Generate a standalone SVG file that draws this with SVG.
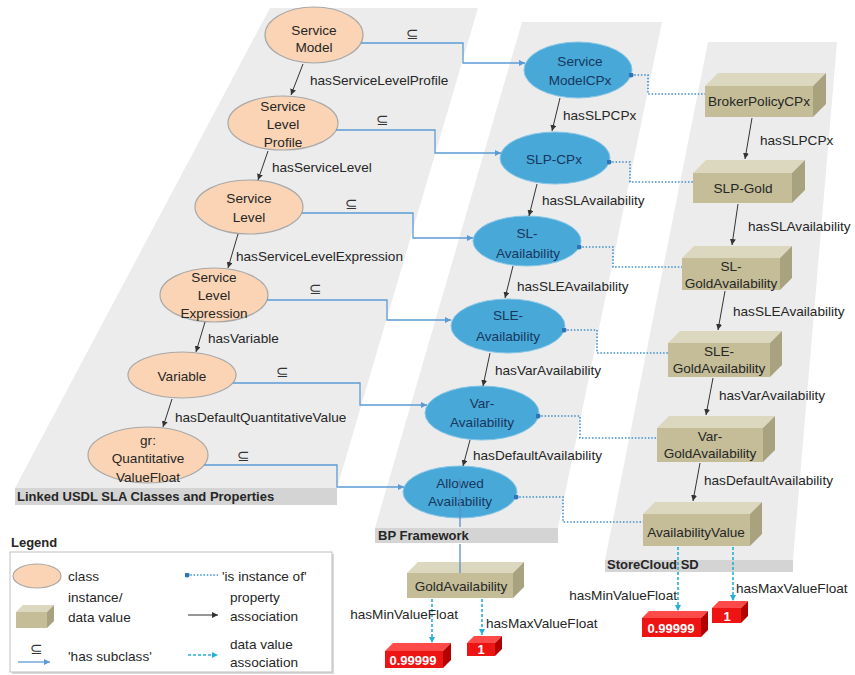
<svg xmlns="http://www.w3.org/2000/svg" width="855" height="675" viewBox="0 0 855 675">
<defs>
<style>
text{font-family:"Liberation Sans",Arial,sans-serif;font-size:13.6px;fill:#262626}
.c{text-anchor:middle}
.b{font-weight:bold;font-size:13px}
.nb{fill:#17375e}
.w{fill:#ffffff;font-weight:bold;font-size:13px}
.panel{fill:#ececec}
.strip{fill:#d4d4d4}
.peach{fill:#fad4b4;stroke:#a8a8a8;stroke-width:1.2}
.blue{fill:#48a8d8;stroke:#86c5e6;stroke-width:1}
.bf{fill:#c4bd97}.btp{fill:#dcd8bf}.bs{fill:#a9a27f}
.rf{fill:#ee1414}.rt{fill:#ff4a4a}.rs{fill:#b30000}
.prop{stroke:#333333;stroke-width:1;fill:none;marker-end:url(#ak)}
.sub{stroke:#5b9bd5;stroke-width:1.3;fill:none;marker-end:url(#abl)}
.inst{stroke:#3d8fd1;stroke-width:1.6;stroke-dasharray:1.5 1.8;fill:none;marker-start:url(#dot)}
.dv{stroke:#27b0d4;stroke-width:1.6;stroke-dasharray:3 2;fill:none;marker-end:url(#acy)}
.sym{font-size:15px;fill:#333333}
</style>
<marker id="ak" viewBox="0 0 6 6" refX="6" refY="3" markerWidth="6" markerHeight="6" markerUnits="userSpaceOnUse" orient="auto"><path d="M0,0 L6,3 L0,6 z" fill="#333333"/></marker>
<marker id="abl" viewBox="0 0 6 6" refX="6" refY="3" markerWidth="6" markerHeight="6" markerUnits="userSpaceOnUse" orient="auto"><path d="M0,0 L6,3 L0,6 z" fill="#5b9bd5"/></marker>
<marker id="acy" viewBox="0 0 6 6" refX="6" refY="3" markerWidth="6" markerHeight="6" markerUnits="userSpaceOnUse" orient="auto"><path d="M0,0 L6,3 L0,6 z" fill="#27b0d4"/></marker>
<marker id="dot" viewBox="0 0 6 6" refX="3" refY="3" markerWidth="5" markerHeight="5" markerUnits="userSpaceOnUse"><circle cx="3" cy="3" r="3" fill="#2e75b6"/></marker>
</defs>
<rect width="855" height="675" fill="#ffffff"/>

<g id="panels">
<polygon class="panel" points="270,8 478,8 337,488 15,488"/>
<polygon class="strip" points="15,488 337,488 337,505 15,505"/>
<text class="b" x="17" y="501">Linked USDL SLA Classes and Properties</text>
<polygon class="panel" points="522,22 662,22 558,528 375,528"/>
<polygon class="strip" points="375,528 558,528 558,543 375,543"/>
<text class="b" x="378" y="540">BP Framework</text>
<polygon class="panel" points="708,42 837,42 793,560 605,560"/>
<polygon class="strip" points="605,560 793,560 793,572 605,572"/>
<text class="b" x="607" y="569">StoreCloud SD</text>
</g>

<g id="n-service-model"><ellipse class="peach" cx="314" cy="35" rx="49" ry="28"/><text class="c" x="314" y="35">Service</text><text class="c" x="314" y="52">Model</text></g>
<g id="n-slp"><ellipse class="peach" cx="283" cy="123" rx="55" ry="27"/><text class="c" x="283" y="111">Service</text><text class="c" x="283" y="129">Level</text><text class="c" x="283" y="147">Profile</text></g>
<g id="n-sl"><ellipse class="peach" cx="249" cy="207" rx="54" ry="27"/><text class="c" x="249" y="203">Service</text><text class="c" x="249" y="222">Level</text></g>
<g id="n-sle"><ellipse class="peach" cx="214" cy="295" rx="54" ry="27"/><text class="c" x="214" y="282">Service</text><text class="c" x="214" y="300">Level</text><text class="c" x="214" y="318">Expression</text></g>
<g id="n-variable"><ellipse class="peach" cx="182" cy="375" rx="54" ry="23"/><text class="c" x="182" y="381">Variable</text></g>
<g id="n-gr"><ellipse class="peach" cx="148" cy="455" rx="60" ry="28"/><text class="c" x="148" y="445">gr:</text><text class="c" x="148" y="463">Quantitative</text><text class="c" x="148" y="482">ValueFloat</text></g>

<g id="n-smcpx"><ellipse class="blue" cx="578" cy="70" rx="54" ry="28"/><text class="c nb" x="580" y="66">Service</text><text class="c nb" x="580" y="85">ModelCPx</text></g>
<g id="n-slpcpx"><ellipse class="blue" cx="555" cy="158" rx="55" ry="26"/><text class="c nb" x="554" y="164">SLP-CPx</text></g>
<g id="n-slav"><ellipse class="blue" cx="527" cy="241" rx="54" ry="25"/><text class="c nb" x="527" y="238">SL-</text><text class="c nb" x="528" y="258">Availability</text></g>
<g id="n-sleav"><ellipse class="blue" cx="508" cy="326" rx="57" ry="27"/><text class="c nb" x="508" y="320">SLE-</text><text class="c nb" x="508" y="341">Availability</text></g>
<g id="n-varav"><ellipse class="blue" cx="482" cy="413" rx="57" ry="27"/><text class="c nb" x="482" y="408">Var-</text><text class="c nb" x="482" y="427">Availability</text></g>
<g id="n-allowed"><ellipse class="blue" cx="460" cy="492" rx="57" ry="26"/><text class="c nb" x="460" y="488">Allowed</text><text class="c nb" x="460" y="506">Availability</text></g>

<g id="n-broker"><rect class="bf" x="705" y="86" width="108" height="31"/><polygon class="btp" points="705,86 718,73 826,73 813,86"/><polygon class="bs" points="813,86 826,73 826,104 813,117"/><text class="c" x="759" y="106">BrokerPolicyCPx</text></g>
<g id="n-slpgold"><rect class="bf" x="693" y="173" width="99" height="30"/><polygon class="btp" points="693,173 706,160 805,160 792,173"/><polygon class="bs" points="792,173 805,160 805,190 792,203"/><text class="c" x="743" y="193">SLP-Gold</text></g>
<g id="n-slgold"><rect class="bf" x="682" y="258" width="98" height="32"/><polygon class="btp" points="682,258 694,246 792,246 780,258"/><polygon class="bs" points="780,258 792,246 792,278 780,290"/><text class="c" x="731" y="271">SL-</text><text class="c" x="731" y="288">GoldAvailability</text></g>
<g id="n-slegold"><rect class="bf" x="668" y="343" width="102" height="34"/><polygon class="btp" points="668,343 680,331 782,331 770,343"/><polygon class="bs" points="770,343 782,331 782,365 770,377"/><text class="c" x="719" y="356">SLE-</text><text class="c" x="719" y="373">GoldAvailability</text></g>
<g id="n-vargold"><rect class="bf" x="657" y="428" width="106" height="34"/><polygon class="btp" points="657,428 669,416 775,416 763,428"/><polygon class="bs" points="763,428 775,416 775,450 763,462"/><text class="c" x="710" y="441">Var-</text><text class="c" x="710" y="458">GoldAvailability</text></g>
<g id="n-availvalue"><rect class="bf" x="643" y="514" width="107" height="32"/><polygon class="btp" points="643,514 655,502 762,502 750,514"/><polygon class="bs" points="750,514 762,502 762,534 750,546"/><text class="c" x="696" y="537">AvailabilityValue</text></g>
<g id="n-goldavail"><rect class="bf" x="407" y="573" width="106" height="25"/><polygon class="btp" points="407,573 418,562 524,562 513,573"/><polygon class="bs" points="513,573 524,562 524,587 513,598"/><text class="c" x="461" y="591">GoldAvailability</text></g>

<g id="n-v1"><rect class="rf" x="385" y="651" width="58" height="17"/><polygon class="rt" points="385,651 393,643 451,643 443,651"/><polygon class="rs" points="443,651 451,643 451,660 443,668"/><text class="c w" x="413" y="665">0.99999</text></g>
<g id="n-v2"><rect class="rf" x="467" y="643" width="28" height="13"/><polygon class="rt" points="467,643 474,636 502,636 495,643"/><polygon class="rs" points="495,643 502,636 502,649 495,656"/><text class="c w" x="481" y="654">1</text></g>
<g id="n-v3"><rect class="rf" x="642" y="618" width="59" height="19"/><polygon class="rt" points="642,618 649,611 708,611 701,618"/><polygon class="rs" points="701,618 708,611 708,630 701,637"/><text class="c w" x="671" y="633">0.99999</text></g>
<g id="n-v4"><rect class="rf" x="712" y="608" width="29" height="15"/><polygon class="rt" points="712,608 719,601 748,601 741,608"/><polygon class="rs" points="741,608 748,601 748,616 741,623"/><text class="c w" x="727" y="621">1</text></g>

<g id="connectors">
<path class="prop" d="M303,64 L291,95"/>
<path class="prop" d="M268,151 L258,180"/>
<path class="prop" d="M238,234 L228,268"/>
<path class="prop" d="M205,322 L196,352"/>
<path class="prop" d="M172,399 L163,427"/>
<path class="prop" d="M560,98 L552,131"/>
<path class="prop" d="M537,184 L529,216"/>
<path class="prop" d="M513,266 L505,298"/>
<path class="prop" d="M490,353 L483,386"/>
<path class="prop" d="M470,440 L463,466"/>
<path class="prop" d="M752,118 L745,159"/>
<path class="prop" d="M738,204 L732,245"/>
<path class="prop" d="M725,291 L718,330"/>
<path class="prop" d="M713,378 L706,415"/>
<path class="prop" d="M700,463 L693,501"/>

<path class="sub" d="M361,43 H463 V63 H525"/>
<path class="sub" d="M336,130 H435 V153 H501"/>
<path class="sub" d="M302,213 H413 V238 H473"/>
<path class="sub" d="M267,300 H387 V320 H451"/>
<path class="sub" d="M233,383 H360 V405 H427"/>
<path class="sub" d="M204,465 H337 V487 H404"/>

<path class="inst" d="M631,75 H648 V94 H705"/>
<path class="inst" d="M609,162 H630 V182 H693"/>
<path class="inst" d="M579,247 H613 V267 H682"/>
<path class="inst" d="M564,330 H597 V353 H668"/>
<path class="inst" d="M538,416 H580 V438 H657"/>
<path class="inst" d="M516,497 H563 V522 H643"/>
<path d="M460,478 V527 M460,544 V573" stroke="#5b8fc9" stroke-width="1.3" fill="none"/>

<path class="dv" d="M432,599 V643"/>
<path class="dv" d="M482,599 V635"/>
<path class="dv" d="M678,547 V611"/>
<path class="dv" d="M733,547 V601"/>

<text class="sym c" x="412" y="39">⊆</text>
<text class="sym c" x="382" y="125">⊆</text>
<text class="sym c" x="351" y="209">⊆</text>
<text class="sym c" x="315" y="294">⊆</text>
<text class="sym c" x="282" y="377">⊆</text>
<text class="sym c" x="243" y="461">⊆</text>

<text x="310" y="85">hasServiceLevelProfile</text>
<text x="272" y="172">hasServiceLevel</text>
<text x="236" y="261">hasServiceLevelExpression</text>
<text x="208" y="343">hasVariable</text>
<text x="175" y="422">hasDefaultQuantitativeValue</text>
<text x="563" y="120">hasSLPCPx</text>
<text x="542" y="205">hasSLAvailability</text>
<text x="517" y="291">hasSLEAvailability</text>
<text x="495" y="375">hasVarAvailability</text>
<text x="473" y="460">hasDefaultAvailability</text>
<text x="760" y="145">hasSLPCPx</text>
<text x="748" y="231">hasSLAvailability</text>
<text x="733" y="316">hasSLEAvailability</text>
<text x="719" y="400">hasVarAvailability</text>
<text x="704" y="485">hasDefaultAvailability</text>
<text x="458" y="619" text-anchor="end">hasMinValueFloat</text>
<text x="486" y="628">hasMaxValueFloat</text>
<text x="677" y="600" text-anchor="end">hasMinValueFloat</text>
<text x="736" y="593">hasMaxValueFloat</text>
</g>

<g id="legend">
<text class="b" x="11" y="547">Legend</text>
<rect x="12" y="554" width="322" height="120" fill="#d9d9d9"/>
<rect x="10" y="552" width="322" height="120" fill="#ffffff" stroke="#bfbfbf" stroke-width="1"/>
<ellipse class="peach" cx="37" cy="576" rx="24" ry="12"/>
<text x="68" y="581">class</text>
<rect class="bf" x="16" y="612" width="31" height="16"/><polygon class="btp" points="16,612 23,605 54,605 47,612"/><polygon class="bs" points="47,612 54,605 54,621 47,628"/>
<text x="68" y="602">instance/</text>
<text x="68" y="622">data value</text>
<text class="sym c" x="36" y="654">⊆</text>
<path class="sub" d="M18,662 H50"/>
<text x="68" y="661">'has subclass'</text>
<path class="inst" d="M187,575 H218"/>
<text x="222" y="581">'is instance of'</text>
<path class="prop" d="M188,615 H218"/>
<text x="230" y="602">property</text>
<text x="230" y="621">association</text>
<path class="dv" d="M188,655 H218"/>
<text x="230" y="649">data value</text>
<text x="230" y="667">association</text>
</g>
</svg>
